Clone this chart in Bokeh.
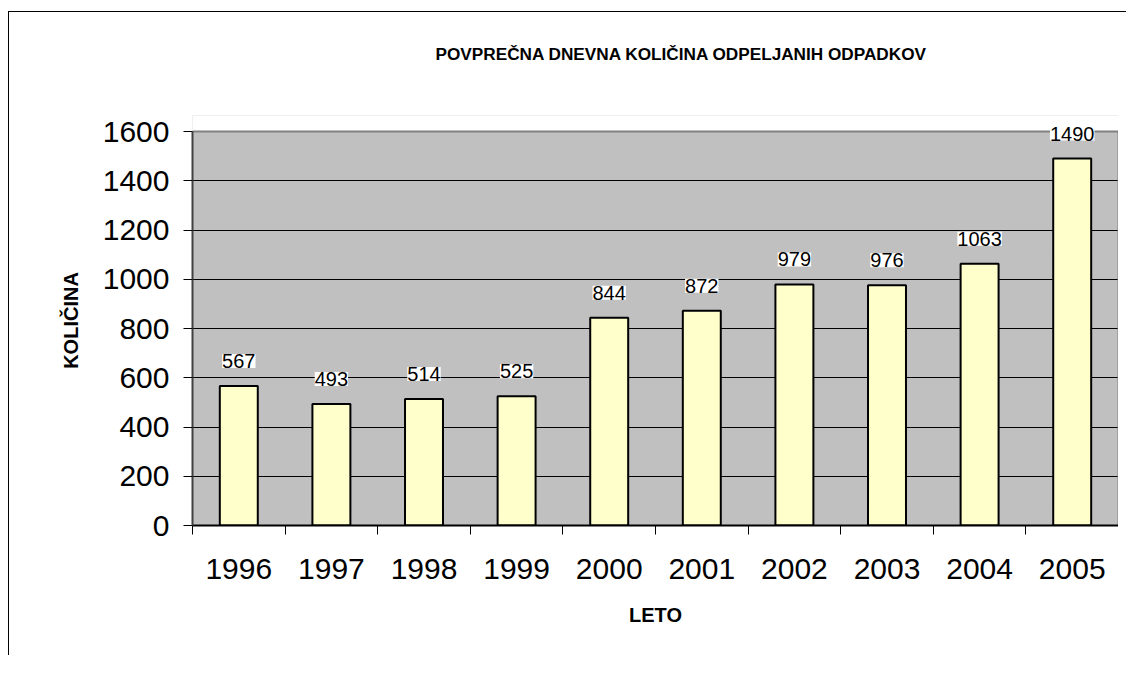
from bokeh.plotting import figure
from bokeh.models import ColumnDataSource, LabelSet, Title, Range1d, FixedTicker
from bokeh.core.properties import value
from bokeh.embed import file_html
from bokeh.resources import INLINE

# ---- data ----
years = ["1996", "1997", "1998", "1999", "2000", "2001", "2002", "2003", "2004", "2005"]
amounts = [567, 493, 514, 525, 844, 872, 979, 976, 1063, 1490]
y_ticks = [0, 200, 400, 600, 800, 1000, 1200, 1400, 1600]
title_text = "POVPREČNA DNEVNA KOLIČINA ODPELJANIH ODPADKOV"
x_label = "LETO"
y_label = "KOLIČINA"

FONT = "Liberation Sans"
Y_HEADROOM = 65  # extra range above the top tick so the data labels are not clipped

n = len(years)
centers = [i + 0.5 for i in range(n)]
bounds = [i for i in range(n + 1)]
y_top = y_ticks[-1]

src = ColumnDataSource(dict(x=centers, y=amounts, lbl=[str(v) for v in amounts]))

p = figure(
    title=None,
    frame_width=926, frame_height=410,
    min_border_left=183, min_border_top=103, min_border_right=0, min_border_bottom=130,
    x_range=Range1d(0, n), y_range=Range1d(y_ticks[0], y_top + Y_HEADROOM),
    output_backend="svg", toolbar_location=None, tools="",
    styles={"border-left": "1px solid #000000", "border-top": "1px solid #000000",
            "margin-top": "11px", "margin-left": "8px", "padding-right": "8px"},
)
p.background_fill_color = "#C0C0C0"
p.border_fill_color = "white"
p.outline_line_color = None

# white strip above the plot area (headroom for labels), oversized to hide edges
p.quad(left=[-1], right=[n + 1], bottom=[y_top], top=[y_top + 3 * Y_HEADROOM],
       fill_color="white", line_color=None)
# plot-area border (top and right)
p.line(x=[0, n, n], y=[y_top, y_top, 0], line_color="#808080", line_width=2)

# title: spacer panel next to the plot, then the real title above it
p.add_layout(Title(text=" ", text_font_size="10px", standoff=38), "above")
p.add_layout(Title(text=title_text, text_font=FONT, text_font_size="17.2px",
                   text_font_style="bold", text_color="black", align="left",
                   offset=243, standoff=0, vertical_align="middle"), "above")

# bars
p.vbar(x="x", top="y", width=0.41, bottom=0, source=src,
       fill_color="#FFFFCC", line_color="black", line_width=2)

labels = LabelSet(x="x", y="y", text="lbl", source=src, text_align="center",
                  text_baseline="bottom", y_offset=18, text_font=value(FONT),
                  text_font_size=value("20px"), text_color="black",
                  background_fill_color="white")
p.add_layout(labels)

# grid
p.xgrid.visible = False
p.ygrid.grid_line_color = "black"
p.ygrid.grid_line_width = 1
p.ygrid.ticker = FixedTicker(ticks=y_ticks)

# y axis
p.yaxis.ticker = FixedTicker(ticks=y_ticks)
p.yaxis.bounds = (y_ticks[0], y_top)
p.yaxis.axis_line_color = "#404040"
p.yaxis.axis_line_width = 2
p.yaxis.major_tick_out = 9
p.yaxis.major_tick_in = 0
p.yaxis.minor_tick_line_color = None
p.yaxis.major_tick_line_color = "black"
p.yaxis.major_label_text_font = FONT
p.yaxis.major_label_text_font_size = "30px"
p.yaxis.major_label_text_color = "black"
p.yaxis.major_label_standoff = 14
p.yaxis.axis_label = y_label
p.yaxis.axis_label_text_font = FONT
p.yaxis.axis_label_text_font_size = "20px"
p.yaxis.axis_label_text_font_style = "bold"
p.yaxis.axis_label_text_color = "black"
p.yaxis.axis_label_standoff = 18

# x axis
p.xaxis.ticker = FixedTicker(ticks=centers, minor_ticks=bounds)
p.xaxis.major_label_overrides = {c: y for c, y in zip(centers, years)}
p.xaxis.axis_line_color = "black"
p.xaxis.axis_line_width = 2
p.xaxis.major_tick_line_color = None
p.xaxis.major_tick_out = 0
p.xaxis.major_tick_in = 0
p.xaxis.minor_tick_line_color = "black"
p.xaxis.minor_tick_out = 9
p.xaxis.minor_tick_in = 0
p.xaxis.major_label_text_font = FONT
p.xaxis.major_label_text_font_size = "30px"
p.xaxis.major_label_text_color = "black"
p.xaxis.major_label_standoff = 24
p.xaxis.axis_label = x_label
p.xaxis.axis_label_text_font = FONT
p.xaxis.axis_label_text_font_size = "20px"
p.xaxis.axis_label_text_font_style = "bold"
p.xaxis.axis_label_text_color = "black"
p.xaxis.axis_label_standoff = 22

open("out.html", "w").write(file_html(p, INLINE))
